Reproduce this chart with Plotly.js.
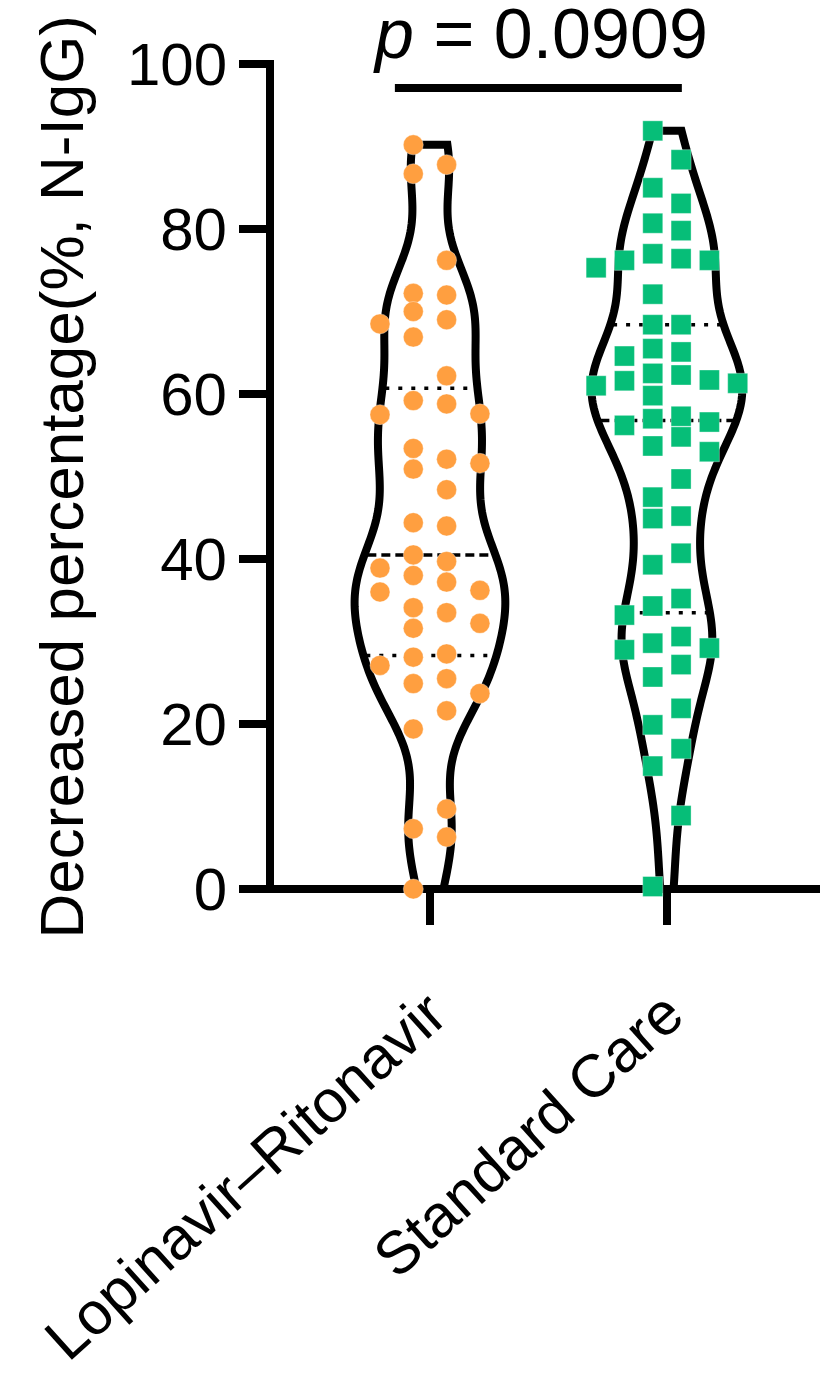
<!DOCTYPE html>
<html>
<head>
<meta charset="utf-8">
<script src="https://cdn.plot.ly/plotly-3.0.1.min.js"></script>
<style>
  html, body { margin: 0; padding: 0; background: #fff; }
  #chart { width: 820px; height: 1378px; }
</style>
</head>
<body>
<div id="chart"></div>
<script>
// ---------- data ----------
const categories = ["Lopinavir\u2013Ritonavir", "Standard Care"];
const lopinavirValues = [90.2, 87.8, 86.7, 76.2, 72.2, 72.0, 70.0, 69.0, 68.5, 66.9, 62.2, 59.2, 58.8,
  57.6, 57.5, 53.4, 52.1, 51.6, 50.9, 48.4, 44.4, 44.0, 40.5, 39.7, 38.9, 38.0, 37.2, 36.2, 36.0,
  34.1, 33.5, 32.2, 31.6, 28.5, 28.1, 27.1, 25.5, 24.9, 23.7, 21.6, 19.4, 9.7, 7.3, 6.3, 0.0];
const standardCareValues = [91.9, 88.4, 85.0, 83.1, 80.7, 79.8, 77.0, 76.4, 76.2, 76.2, 75.3, 72.1,
  68.4, 68.4, 65.5, 65.1, 64.6, 62.5, 62.3, 61.7, 61.6, 61.3, 61.0, 59.8, 57.3, 57.0, 56.6, 56.2,
  54.8, 53.7, 53.0, 49.7, 47.5, 45.2, 44.9, 40.7, 39.3, 35.2, 34.3, 33.2, 30.6, 29.8, 29.2, 29.0,
  27.2, 25.7, 21.9, 19.9, 17.0, 14.9, 8.9, 0.3];
const yTicks = [0, 20, 40, 60, 80, 100];
const pValueText = "<i>p</i> = 0.0909";
const yTitle = "Decreased percentage(%, N-IgG)";

// ---------- helpers ----------
const FONT = "Liberation Sans, Arial, Helvetica, sans-serif";
const orange = "#FF9F40";
const green = "#06BE78";

function quantile(vals, p) {           // (n+1)p interpolation (Prism style)
  const s = vals.slice().sort((a, b) => a - b);
  const n = s.length;
  let pos = (n + 1) * p;
  if (pos < 1) pos = 1;
  if (pos > n) pos = n;
  const lo = Math.floor(pos), hi = Math.ceil(pos);
  return s[lo - 1] + (pos - lo) * (s[hi - 1] - s[lo - 1]);
}

function kdeFn(vals, h) {
  return y => vals.reduce((acc, v) => acc + Math.exp(-0.5 * Math.pow((y - v) / h, 2)), 0);
}

function violinShape(vals, center, maxHalf, h) {
  const f = kdeFn(vals, h);
  const lo = Math.min(...vals), hi = Math.max(...vals);
  const N = 300;
  const ys = [];
  for (let i = 0; i <= N; i++) ys.push(lo + (hi - lo) * i / N);
  const ds = ys.map(f);
  const dmax = Math.max(...ds);
  const half = y => maxHalf * f(y) / dmax;
  const xs = [], yy = [];
  ys.forEach((y, i) => { xs.push(center - maxHalf * ds[i] / dmax); yy.push(y); });
  for (let i = N; i >= 0; i--) { xs.push(center + maxHalf * ds[i] / dmax); yy.push(ys[i]); }
  return { x: xs, y: yy, half };
}

function swarm(vals, center, step, dy) {
  const order = vals.map((v, i) => i).sort((a, b) => vals[b] - vals[a]);
  const slots = [];
  for (let k = 0; k < 8; k++) { slots.push(-(k + 0.5)); slots.push(k + 0.5); }
  const placed = {};
  const xs = new Array(vals.length);
  order.forEach(i => {
    const v = vals[i];
    let best = null, bestGap = -1, bestAbs = Infinity;
    for (const s of slots) {
      if (Math.abs(s) > bestAbs) break;
      const list = placed[s] || [];
      const gap = list.length ? Math.min(...list.map(p => Math.abs(p - v))) : 1e9;
      if (gap >= dy) {
        if (Math.abs(s) < bestAbs || gap > bestGap) { best = s; bestGap = gap; bestAbs = Math.abs(s); }
      }
    }
    if (best === null) best = slots[slots.length - 1];
    (placed[best] = placed[best] || []).push(v);
    xs[i] = center + best * step;
  });
  return xs;
}

// ---------- build traces ----------
const groups = [
  { vals: lopinavirValues, pos: 0, color: orange, symbol: "circle", step: 0.1406, dy: 2.2, h: 5.5 },
  { vals: standardCareValues, pos: 1, color: green, symbol: "square", step: 0.1195, dy: 2.4, h: 5.5 }
];
const MAXHALF = 0.318;
const traces = [];
groups.forEach(g => {
  const v = violinShape(g.vals, g.pos, MAXHALF, g.h);
  traces.push({
    type: "scatter", mode: "lines", x: v.x, y: v.y, cliponaxis: false,
    line: { color: "#000", width: 8, simplify: false }, hoverinfo: "skip", showlegend: false
  });
  [[0.25, "4px,9px"], [0.5, "9px,5px"], [0.75, "4px,9px"]].forEach(([p, dash]) => {
    const q = quantile(g.vals, p);
    const w = v.half(q) - 0.012;
    traces.push({
      type: "scatter", mode: "lines", x: [g.pos - w, g.pos + w], y: [q, q],
      line: { color: "#000", width: 3.5, dash: dash }, hoverinfo: "skip", showlegend: false
    });
  });
});
groups.forEach(g => {
  traces.push({
    type: "scatter", mode: "markers", cliponaxis: false,
    x: swarm(g.vals, g.pos, g.step, g.dy), y: g.vals,
    marker: { color: g.color, symbol: g.symbol, size: 20,
              line: { color: "rgba(255,255,255,0.35)", width: 1 } },
    showlegend: false
  });
});

const layout = {
  width: 820, height: 1378,
  margin: { l: 270, r: 0, t: 64, b: 489 },
  paper_bgcolor: "#fff", plot_bgcolor: "#fff",
  font: { family: FONT, color: "#000", size: 60 },
  showlegend: false,
  xaxis: {
    range: [-0.675, 1.646], tickvals: [0, 1], ticktext: categories,
    tickangle: -42, ticks: "outside", ticklen: 35, tickwidth: 8, tickcolor: "#000",
    showline: false, showgrid: false, zeroline: false, ticklabelstandoff: 30,
    tickfont: { family: FONT, size: 60, color: "#000" }, layer: "below traces"
  },
  yaxis: {
    range: [0, 100], tickvals: yTicks, ticktext: yTicks.map(String),
    ticks: "outside", ticklen: 30, tickwidth: 8, tickcolor: "#000",
    showline: false, showgrid: false, zeroline: false,
    tickfont: { family: FONT, size: 60, color: "#000" }, layer: "below traces"
  },
  shapes: [
    // axis lines (centred on the plot edges)
    { type: "line", xref: "paper", yref: "paper", x0: -0.0073, x1: 1, y0: 0, y1: 0,
      line: { color: "#000", width: 8 }, layer: "below" },
    { type: "line", xref: "paper", yref: "paper", x0: 0, x1: 0, y0: 0, y1: 1.0048,
      line: { color: "#000", width: 8 }, layer: "below" },
    // significance bar
    { type: "line", xref: "x", yref: "y", x0: -0.148, x1: 1.063, y0: 97.1, y1: 97.1,
      line: { color: "#000", width: 8 } }
  ],
  annotations: [
    { text: pValueText, xref: "x", yref: "paper", x: 0.468, y: 1.036, showarrow: false,
      xanchor: "center", yanchor: "middle", borderpad: 0,
      font: { family: FONT, size: 70, color: "#000" } },
    { text: yTitle, xref: "paper", yref: "paper", x: 0, y: 0.5,
      xshift: -209, textangle: -90, showarrow: false, xanchor: "center", yanchor: "middle",
      font: { family: FONT, size: 62, color: "#000" } }
  ]
};

Plotly.newPlot("chart", traces, layout, { staticPlot: true, displayModeBar: false });
</script>
</body>
</html>
